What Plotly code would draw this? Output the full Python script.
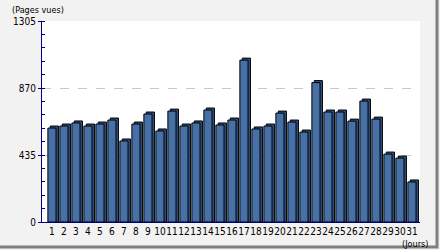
import plotly.graph_objects as go

jours = list(range(1, 32))
pages_vues = [610, 623, 643, 623, 636, 662, 526, 636, 701, 591,
              720, 623, 643, 727, 630, 662, 1051, 604, 623, 707,
              649, 584, 905, 714, 714, 655, 785, 668, 441, 415, 260]
y_ticks = [0, 435, 870, 1305]

depth = 13  # 3D depth effect in data units
back_vals = [v + depth for v in pages_vues]

font = "DejaVu Sans Condensed, DejaVu Sans, sans-serif"

fig = go.Figure()
fig.add_trace(go.Bar(
    x=jours, y=back_vals, width=0.68, offset=-0.34 + 0.2,
    marker=dict(color="#2f5282", line=dict(color="black", width=1)),
    hoverinfo="skip", showlegend=False))
fig.add_trace(go.Bar(
    x=jours, y=pages_vues, width=0.68, offset=-0.34,
    marker=dict(color="#4670a6", line=dict(color="black", width=1)),
    showlegend=False))

fig.update_layout(
    width=440, height=250,
    margin=dict(l=42, r=20, t=21, b=28),
    paper_bgcolor="#f2f2f2", plot_bgcolor="white",
    barmode="overlay",
    font=dict(family=font, size=10, color="black"),
    xaxis=dict(range=[0.17, 31.67], tickmode="array", tickvals=jours,
               ticktext=[str(j) for j in jours], showgrid=False,
               showline=True, linecolor="#000080", linewidth=1,
               ticks="", tickangle=0, tickfont=dict(size=10), zeroline=False),
    yaxis=dict(range=[0, 1305], tickmode="array", tickvals=y_ticks,
               showgrid=True, gridcolor="#c8c8c8", griddash="dash",
               showline=True, linecolor="#000080", linewidth=1,
               ticks="outside", ticklen=3, tickcolor="#000080",
               minor=dict(dtick=87, ticks="inside", ticklen=3,
                          tickcolor="#000080", showgrid=False),
               zeroline=False, tickfont=dict(size=10)),
    annotations=[
        dict(text="(Pages vues)", xref="paper", yref="paper",
             x=-0.085, y=1.02, xanchor="left", yanchor="bottom",
             showarrow=False, font=dict(size=9)),
        dict(text="(Jours)", xref="paper", yref="paper",
             x=1.027, y=-0.075, xanchor="right", yanchor="top",
             showarrow=False, font=dict(size=9)),
    ],
    shapes=[
        dict(type="rect", xref="paper", yref="paper",
             x0=-0.2, x1=1.045, y0=-0.124, y1=1.2,
             line=dict(color="#7f7f80", width=3), fillcolor="rgba(0,0,0,0)",
             layer="above"),
    ],
)

fig.write_html("out.html")
